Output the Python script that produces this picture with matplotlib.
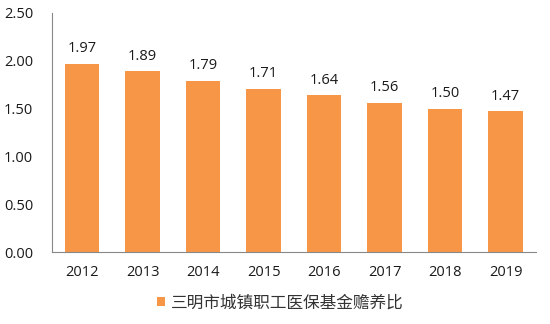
import matplotlib.pyplot as plt
import numpy as np

plt.rcParams['font.family'] = ['Open Sans', 'Noto Sans CJK SC', 'DejaVu Sans']

years = ['2012', '2013', '2014', '2015', '2016', '2017', '2018', '2019']
ratios = [1.97, 1.89, 1.79, 1.71, 1.64, 1.56, 1.50, 1.47]
yticks = [0.0, 0.5, 1.0, 1.5, 2.0, 2.5]
series_name = '三明市城镇职工医保基金赡养比'

bar_color = '#F79646'
text_color = '#1a1a1a'

fig = plt.figure(figsize=(5.5, 3.24), dpi=100)
ax = fig.add_axes([0.0945, 0.222, 0.88, 0.738])

x = np.arange(len(years))
bars = ax.bar(x, ratios, width=0.57, color=bar_color, label=series_name)

for xi, v in zip(x, ratios):
    ax.text(xi, v + 0.08, '{:.2f}'.format(v), ha='center', va='bottom',
            fontsize=10.5, color=text_color)

ax.set_xlim(-0.5, len(years) - 0.5)
ax.set_ylim(0, 2.5)
ax.set_yticks(yticks)
ax.set_yticklabels(['{:.2f}'.format(t) for t in yticks], fontsize=10.5, color=text_color)
ax.set_xticks(x)
ax.set_xticklabels(years, fontsize=10.5, color=text_color)
ax.tick_params(axis='x', length=0, pad=9)
ax.tick_params(axis='y', length=0, pad=13.5)

for s in ['top', 'right']:
    ax.spines[s].set_visible(False)
ax.spines['left'].set_color('#888888')
ax.spines['bottom'].set_color('#888888')

fig.legend(handles=[bars], labels=[series_name], loc='center',
           bbox_to_anchor=(0.51, 1 - 303 / 324), frameon=False,
           handlelength=0.45, handleheight=0.45, handletextpad=0.35,
           labelcolor='#333333',
           prop={'family': ['Noto Sans CJK SC'], 'size': 12})

fig.savefig('out.png', dpi=100)
